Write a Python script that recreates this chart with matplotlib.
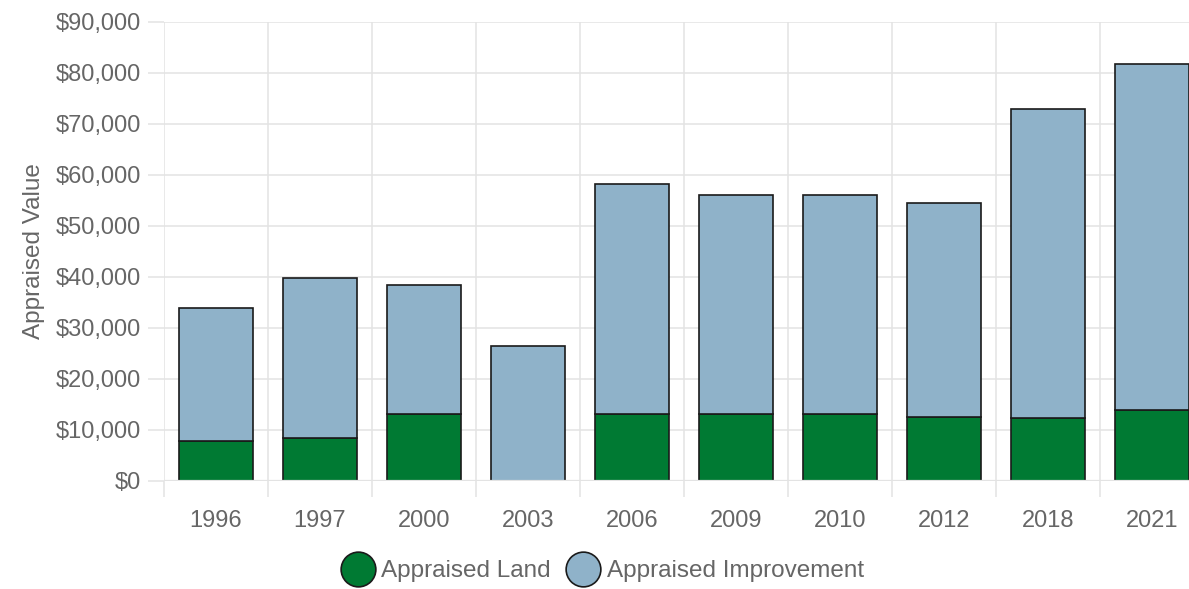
import numpy as np
import matplotlib
matplotlib.use("Agg")
import matplotlib.pyplot as plt
from matplotlib.lines import Line2D
from matplotlib.ticker import FuncFormatter

# Valores
anos = ["1996", "1997", "2000", "2003", "2006", "2009", "2010", "2012", "2018", "2021"]
terreno = [7800, 8400, 13000, 0, 13000, 13000, 13000, 12400, 12300, 13800]
total = [33800, 39700, 38400, 26500, 58200, 56000, 56000, 54500, 72900, 81800]
melhoria = [t - l for t, l in zip(total, terreno)]

COR_TERRENO = "#007a33"
COR_MELHORIA = "#8fb2c9"
COR_GRADE = "#e3e3e3"
COR_TEXTO = "#666666"

plt.rcParams["font.family"] = ["Liberation Sans", "DejaVu Sans"]

W, H = 1189, 589
fig = plt.figure(figsize=(W / 100, H / 100), dpi=100)
left, right = 164, 1204
top, bottom = 21.7, 480.7
ax = fig.add_axes([left / W, 1 - bottom / H, (right - left) / W, (bottom - top) / H])

x = np.arange(len(anos))
larg = 0.705
ax.bar(x, terreno, larg, color=COR_TERRENO, edgecolor="#1a1a1a", linewidth=1.2, zorder=3)
ax.bar(x, melhoria, larg, bottom=terreno, color=COR_MELHORIA, edgecolor="#1a1a1a",
       linewidth=1.2, zorder=3)
ax.axhline(0, color=COR_GRADE, lw=1.6, zorder=4)

ax.set_xlim(-0.5, len(anos) - 0.5)
ax.set_ylim(0, 90000)
ax.set_yticks(np.arange(0, 90001, 10000))
ax.yaxis.set_major_formatter(FuncFormatter(lambda v, p: f"${v:,.0f}"))
ax.set_xticks(x)
ax.set_xticklabels(anos)
ax.set_xticks(np.arange(-0.5, len(anos)), minor=True)

for s in ax.spines.values():
    s.set_visible(False)
ax.grid(axis="y", which="major", color=COR_GRADE, lw=1.1, zorder=0)
ax.grid(axis="x", which="minor", color=COR_GRADE, lw=1.1, zorder=0)
ax.grid(axis="x", which="major", visible=False)

ax.tick_params(axis="y", length=11.5, width=1.1, color=COR_GRADE, pad=5,
               labelsize=17, labelcolor=COR_TEXTO)
ax.tick_params(axis="x", which="major", length=0, pad=21, labelsize=17, labelcolor=COR_TEXTO)
ax.tick_params(axis="x", which="minor", length=11.5, width=1.1, color=COR_GRADE)

ax.set_ylabel("Appraised Value", fontsize=17.5, color=COR_TEXTO, labelpad=8)

handles = [
    Line2D([], [], ls="none", marker="o", markersize=25, markerfacecolor=COR_TERRENO,
           markeredgecolor="#1a1a1a", markeredgewidth=1.2, label="Appraised Land"),
    Line2D([], [], ls="none", marker="o", markersize=25, markerfacecolor=COR_MELHORIA,
           markeredgecolor="#1a1a1a", markeredgewidth=1.2, label="Appraised Improvement"),
]
leg = fig.legend(handles=handles, loc="center", bbox_to_anchor=(602 / W, 1 - 571 / H),
                 ncol=2, frameon=False, fontsize=17.5, handlelength=1.45,
                 handletextpad=0.25, columnspacing=0.6, borderpad=0)
for t in leg.get_texts():
    t.set_color(COR_TEXTO)

fig.savefig("out.png", dpi=100)
